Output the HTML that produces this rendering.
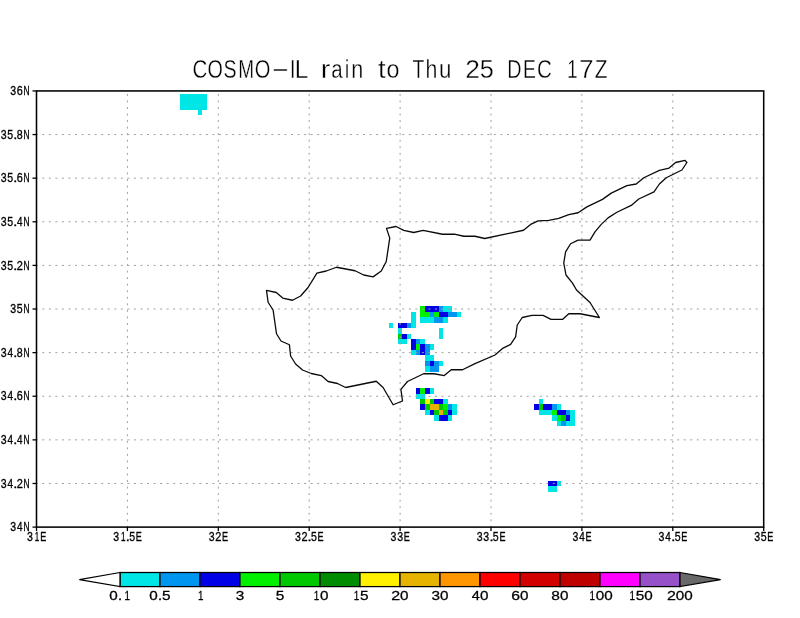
<!DOCTYPE html>
<html lang="en"><head><meta charset="utf-8"><title>COSMO-IL rain to Thu 25 DEC 17Z</title>
<style>html,body{margin:0;padding:0;background:#fff}svg{display:block}text{font-family:"Liberation Sans",sans-serif;fill:#000}</style></head><body>
<svg width="800" height="618" viewBox="0 0 800 618">
<rect width="800" height="618" fill="#fff"/>
<g shape-rendering="crispEdges"><rect x="180" y="94" width="27" height="5" fill="#00e6e6"/><rect x="180" y="99" width="27" height="6" fill="#00e6e6"/><rect x="180" y="105" width="27" height="5" fill="#00e6e6"/><rect x="198" y="110" width="4" height="5" fill="#00e6e6"/><rect x="420" y="306" width="5" height="6" fill="#00f000"/><rect x="425" y="306" width="14" height="6" fill="#0000e6"/><rect x="439" y="306" width="4" height="6" fill="#0096f0"/><rect x="443" y="306" width="9" height="6" fill="#00e6e6"/><rect x="411" y="312" width="5" height="5" fill="#00e6e6"/><rect x="420" y="312" width="10" height="5" fill="#00f000"/><rect x="430" y="312" width="4" height="5" fill="#0096f0"/><rect x="434" y="312" width="5" height="5" fill="#00f000"/><rect x="439" y="312" width="9" height="5" fill="#0000e6"/><rect x="448" y="312" width="9" height="5" fill="#0096f0"/><rect x="457" y="312" width="4" height="5" fill="#00e6e6"/><rect x="411" y="317" width="5" height="6" fill="#00e6e6"/><rect x="420" y="317" width="14" height="6" fill="#00e6e6"/><rect x="434" y="317" width="9" height="6" fill="#0096f0"/><rect x="443" y="317" width="5" height="6" fill="#00e6e6"/><rect x="389" y="323" width="4" height="5" fill="#00e6e6"/><rect x="398" y="323" width="9" height="5" fill="#0000e6"/><rect x="407" y="323" width="4" height="5" fill="#0096f0"/><rect x="411" y="323" width="5" height="5" fill="#00e6e6"/><rect x="398" y="328" width="4" height="6" fill="#00e6e6"/><rect x="439" y="328" width="4" height="6" fill="#00e6e6"/><rect x="398" y="334" width="4" height="5" fill="#00c800"/><rect x="402" y="334" width="5" height="5" fill="#0000e6"/><rect x="407" y="334" width="4" height="5" fill="#00e6e6"/><rect x="439" y="334" width="4" height="5" fill="#00e6e6"/><rect x="398" y="339" width="9" height="5" fill="#00e6e6"/><rect x="411" y="339" width="5" height="5" fill="#0000e6"/><rect x="416" y="339" width="4" height="5" fill="#0096f0"/><rect x="420" y="339" width="5" height="5" fill="#00e6e6"/><rect x="411" y="344" width="5" height="6" fill="#0000e6"/><rect x="416" y="344" width="4" height="6" fill="#00f000"/><rect x="420" y="344" width="5" height="6" fill="#0000e6"/><rect x="425" y="344" width="5" height="6" fill="#0096f0"/><rect x="430" y="344" width="4" height="6" fill="#00e6e6"/><rect x="411" y="350" width="5" height="5" fill="#00e6e6"/><rect x="416" y="350" width="4" height="5" fill="#0096f0"/><rect x="420" y="350" width="5" height="5" fill="#0000e6"/><rect x="425" y="350" width="5" height="5" fill="#0096f0"/><rect x="425" y="355" width="9" height="6" fill="#00e6e6"/><rect x="425" y="361" width="5" height="5" fill="#0096f0"/><rect x="430" y="361" width="4" height="5" fill="#0000e6"/><rect x="434" y="361" width="5" height="5" fill="#0096f0"/><rect x="439" y="361" width="4" height="5" fill="#00e6e6"/><rect x="425" y="366" width="5" height="6" fill="#00e6e6"/><rect x="430" y="366" width="9" height="6" fill="#0096f0"/><rect x="416" y="388" width="4" height="6" fill="#0000e6"/><rect x="420" y="388" width="5" height="6" fill="#00f000"/><rect x="425" y="388" width="5" height="6" fill="#0000e6"/><rect x="430" y="388" width="4" height="6" fill="#00e6e6"/><rect x="416" y="394" width="9" height="5" fill="#00e6e6"/><rect x="420" y="399" width="5" height="5" fill="#00c800"/><rect x="425" y="399" width="5" height="5" fill="#fff000"/><rect x="430" y="399" width="4" height="5" fill="#00c800"/><rect x="434" y="399" width="9" height="5" fill="#0000e6"/><rect x="443" y="399" width="5" height="5" fill="#00e6e6"/><rect x="539" y="399" width="4" height="5" fill="#00e6e6"/><rect x="420" y="404" width="5" height="6" fill="#0000e6"/><rect x="425" y="404" width="5" height="6" fill="#00c800"/><rect x="430" y="404" width="9" height="6" fill="#e6b400"/><rect x="439" y="404" width="4" height="6" fill="#00c800"/><rect x="443" y="404" width="5" height="6" fill="#00f000"/><rect x="448" y="404" width="4" height="6" fill="#0096f0"/><rect x="452" y="404" width="5" height="6" fill="#00e6e6"/><rect x="534" y="404" width="5" height="6" fill="#0000e6"/><rect x="539" y="404" width="4" height="6" fill="#00c800"/><rect x="543" y="404" width="9" height="6" fill="#0000e6"/><rect x="552" y="404" width="5" height="6" fill="#0096f0"/><rect x="557" y="404" width="4" height="6" fill="#00e6e6"/><rect x="425" y="410" width="5" height="5" fill="#00e6e6"/><rect x="430" y="410" width="4" height="5" fill="#0000e6"/><rect x="434" y="410" width="5" height="5" fill="#00c800"/><rect x="439" y="410" width="4" height="5" fill="#e6b400"/><rect x="443" y="410" width="5" height="5" fill="#00c800"/><rect x="448" y="410" width="4" height="5" fill="#0000e6"/><rect x="452" y="410" width="5" height="5" fill="#00e6e6"/><rect x="539" y="410" width="13" height="5" fill="#00e6e6"/><rect x="552" y="410" width="5" height="5" fill="#00f000"/><rect x="557" y="410" width="9" height="5" fill="#0000e6"/><rect x="566" y="410" width="4" height="5" fill="#0096f0"/><rect x="570" y="410" width="5" height="5" fill="#00e6e6"/><rect x="434" y="415" width="5" height="6" fill="#00e6e6"/><rect x="439" y="415" width="9" height="6" fill="#0000e6"/><rect x="448" y="415" width="4" height="6" fill="#00e6e6"/><rect x="552" y="415" width="5" height="6" fill="#00e6e6"/><rect x="557" y="415" width="4" height="6" fill="#00f000"/><rect x="561" y="415" width="5" height="6" fill="#00c800"/><rect x="566" y="415" width="4" height="6" fill="#0000e6"/><rect x="570" y="415" width="5" height="6" fill="#00e6e6"/><rect x="557" y="421" width="4" height="5" fill="#00e6e6"/><rect x="561" y="421" width="5" height="5" fill="#0096f0"/><rect x="566" y="421" width="9" height="5" fill="#00e6e6"/><rect x="548" y="481" width="9" height="5" fill="#0000e6"/><rect x="557" y="481" width="4" height="5" fill="#00e6e6"/><rect x="548" y="486" width="9" height="6" fill="#00e6e6"/></g>
<g stroke="#a0a0a0" stroke-width="1" stroke-dasharray="2 4.545" fill="none"><line x1="35.75" y1="483.48" x2="763.70" y2="483.48"/><line x1="35.75" y1="439.87" x2="763.70" y2="439.87"/><line x1="35.75" y1="396.25" x2="763.70" y2="396.25"/><line x1="35.75" y1="352.64" x2="763.70" y2="352.64"/><line x1="35.75" y1="309.02" x2="763.70" y2="309.02"/><line x1="35.75" y1="265.40" x2="763.70" y2="265.40"/><line x1="35.75" y1="221.79" x2="763.70" y2="221.79"/><line x1="35.75" y1="178.17" x2="763.70" y2="178.17"/><line x1="35.75" y1="134.56" x2="763.70" y2="134.56"/><line x1="127.40" y1="527.85" x2="127.40" y2="90.94"/><line x1="218.30" y1="527.85" x2="218.30" y2="90.94"/><line x1="309.20" y1="527.85" x2="309.20" y2="90.94"/><line x1="400.10" y1="527.85" x2="400.10" y2="90.94"/><line x1="491.00" y1="527.85" x2="491.00" y2="90.94"/><line x1="581.90" y1="527.85" x2="581.90" y2="90.94"/><line x1="672.80" y1="527.85" x2="672.80" y2="90.94"/></g>
<path d="M266.50 290.40 L276.25 292.50 L282.75 298.10 L292.50 300.25 L300.60 296.00 L308.10 287.50 L316.90 273.10 L326.25 271.00 L336.50 267.25 L355.00 270.75 L363.75 275.00 L373.10 276.90 L381.25 271.00 L386.25 261.50 L389.75 238.10 L386.50 228.40 L396.00 226.50 L403.75 230.40 L413.75 232.50 L423.10 230.40 L442.50 234.25 L454.40 234.10 L463.75 236.25 L475.00 236.25 L484.75 238.50 L523.50 230.25 L530.60 224.40 L538.10 220.90 L548.75 220.40 L558.75 218.40 L568.75 214.60 L578.10 212.75 L586.90 206.90 L602.50 199.40 L611.25 193.10 L626.90 185.60 L636.25 184.00 L643.75 177.75 L659.40 170.40 L669.10 168.10 L675.60 162.50 L685.00 160.40 L686.90 162.50 L681.90 170.00 L666.25 177.75 L659.40 184.00 L654.00 191.90 L638.75 199.00 L631.25 205.40 L616.90 212.25 L608.10 217.90 L601.25 224.40 L595.00 231.90 L590.00 240.05 L578.10 240.05 L570.60 243.75 L565.60 251.90 L563.75 263.10 L566.00 275.00 L572.50 283.10 L576.50 290.00 L590.00 302.50 L599.40 317.50 L580.00 313.75 L568.75 313.75 L562.50 319.40 L551.00 319.40 L543.10 315.40 L531.90 315.40 L522.25 317.50 L517.25 325.00 L515.60 336.90 L510.60 344.40 L503.10 348.10 L495.00 355.00 L475.00 363.60 L462.50 369.75 L451.25 369.75 L444.25 375.60 L434.10 373.75 L423.60 373.75 L407.50 381.50 L400.90 389.40 L402.50 401.00 L393.10 404.75 L383.10 387.50 L376.25 381.25 L345.60 387.50 L337.50 383.50 L328.10 381.50 L321.25 375.60 L311.25 373.50 L302.50 370.00 L295.60 364.00 L290.60 356.00 L289.40 344.75 L281.00 341.00 L276.50 333.75 L273.10 310.00 L268.10 302.25 Z" fill="none" stroke="#0a0a0a" stroke-width="1.3" stroke-linejoin="round"/>
<rect x="36.50" y="90.94" width="727.20" height="436.16" fill="none" stroke="#000" stroke-width="1.55"/>
<g stroke="#000" stroke-width="1.3"><line x1="32.50" y1="527.10" x2="36.50" y2="527.10"/><line x1="32.50" y1="483.48" x2="36.50" y2="483.48"/><line x1="32.50" y1="439.87" x2="36.50" y2="439.87"/><line x1="32.50" y1="396.25" x2="36.50" y2="396.25"/><line x1="32.50" y1="352.64" x2="36.50" y2="352.64"/><line x1="32.50" y1="309.02" x2="36.50" y2="309.02"/><line x1="32.50" y1="265.40" x2="36.50" y2="265.40"/><line x1="32.50" y1="221.79" x2="36.50" y2="221.79"/><line x1="32.50" y1="178.17" x2="36.50" y2="178.17"/><line x1="32.50" y1="134.56" x2="36.50" y2="134.56"/><line x1="32.50" y1="90.94" x2="36.50" y2="90.94"/><line x1="36.50" y1="527.10" x2="36.50" y2="531.10"/><line x1="127.40" y1="527.10" x2="127.40" y2="531.10"/><line x1="218.30" y1="527.10" x2="218.30" y2="531.10"/><line x1="309.20" y1="527.10" x2="309.20" y2="531.10"/><line x1="400.10" y1="527.10" x2="400.10" y2="531.10"/><line x1="491.00" y1="527.10" x2="491.00" y2="531.10"/><line x1="581.90" y1="527.10" x2="581.90" y2="531.10"/><line x1="672.80" y1="527.10" x2="672.80" y2="531.10"/><line x1="763.70" y1="527.10" x2="763.70" y2="531.10"/></g>
<g stroke="#000" stroke-width="0.32"><text y="531.25" font-size="12.20"><tspan x="10.20" textLength="5.87" lengthAdjust="spacingAndGlyphs">3</tspan><tspan x="16.97" textLength="5.52" lengthAdjust="spacingAndGlyphs">4</tspan><tspan x="23.41" textLength="6.08" lengthAdjust="spacingAndGlyphs">N</tspan></text><text y="487.63" font-size="12.20"><tspan x="0.70" textLength="5.87" lengthAdjust="spacingAndGlyphs">3</tspan><tspan x="7.47" textLength="5.52" lengthAdjust="spacingAndGlyphs">4</tspan><tspan x="13.36" textLength="4.09" lengthAdjust="spacingAndGlyphs">.</tspan><tspan x="16.65" textLength="6.10" lengthAdjust="spacingAndGlyphs">2</tspan><tspan x="23.41" textLength="6.08" lengthAdjust="spacingAndGlyphs">N</tspan></text><text y="444.02" font-size="12.20"><tspan x="0.70" textLength="5.87" lengthAdjust="spacingAndGlyphs">3</tspan><tspan x="7.47" textLength="5.52" lengthAdjust="spacingAndGlyphs">4</tspan><tspan x="13.36" textLength="4.09" lengthAdjust="spacingAndGlyphs">.</tspan><tspan x="16.97" textLength="5.52" lengthAdjust="spacingAndGlyphs">4</tspan><tspan x="23.41" textLength="6.08" lengthAdjust="spacingAndGlyphs">N</tspan></text><text y="400.40" font-size="12.20"><tspan x="0.70" textLength="5.87" lengthAdjust="spacingAndGlyphs">3</tspan><tspan x="7.47" textLength="5.52" lengthAdjust="spacingAndGlyphs">4</tspan><tspan x="13.36" textLength="4.09" lengthAdjust="spacingAndGlyphs">.</tspan><tspan x="16.65" textLength="6.03" lengthAdjust="spacingAndGlyphs">6</tspan><tspan x="23.41" textLength="6.08" lengthAdjust="spacingAndGlyphs">N</tspan></text><text y="356.79" font-size="12.20"><tspan x="0.70" textLength="5.87" lengthAdjust="spacingAndGlyphs">3</tspan><tspan x="7.47" textLength="5.52" lengthAdjust="spacingAndGlyphs">4</tspan><tspan x="13.36" textLength="4.09" lengthAdjust="spacingAndGlyphs">.</tspan><tspan x="16.74" textLength="5.93" lengthAdjust="spacingAndGlyphs">8</tspan><tspan x="23.41" textLength="6.08" lengthAdjust="spacingAndGlyphs">N</tspan></text><text y="313.17" font-size="12.20"><tspan x="10.20" textLength="5.87" lengthAdjust="spacingAndGlyphs">3</tspan><tspan x="16.78" textLength="5.87" lengthAdjust="spacingAndGlyphs">5</tspan><tspan x="23.41" textLength="6.08" lengthAdjust="spacingAndGlyphs">N</tspan></text><text y="269.55" font-size="12.20"><tspan x="0.70" textLength="5.87" lengthAdjust="spacingAndGlyphs">3</tspan><tspan x="7.28" textLength="5.87" lengthAdjust="spacingAndGlyphs">5</tspan><tspan x="13.36" textLength="4.09" lengthAdjust="spacingAndGlyphs">.</tspan><tspan x="16.65" textLength="6.10" lengthAdjust="spacingAndGlyphs">2</tspan><tspan x="23.41" textLength="6.08" lengthAdjust="spacingAndGlyphs">N</tspan></text><text y="225.94" font-size="12.20"><tspan x="0.70" textLength="5.87" lengthAdjust="spacingAndGlyphs">3</tspan><tspan x="7.28" textLength="5.87" lengthAdjust="spacingAndGlyphs">5</tspan><tspan x="13.36" textLength="4.09" lengthAdjust="spacingAndGlyphs">.</tspan><tspan x="16.97" textLength="5.52" lengthAdjust="spacingAndGlyphs">4</tspan><tspan x="23.41" textLength="6.08" lengthAdjust="spacingAndGlyphs">N</tspan></text><text y="182.32" font-size="12.20"><tspan x="0.70" textLength="5.87" lengthAdjust="spacingAndGlyphs">3</tspan><tspan x="7.28" textLength="5.87" lengthAdjust="spacingAndGlyphs">5</tspan><tspan x="13.36" textLength="4.09" lengthAdjust="spacingAndGlyphs">.</tspan><tspan x="16.65" textLength="6.03" lengthAdjust="spacingAndGlyphs">6</tspan><tspan x="23.41" textLength="6.08" lengthAdjust="spacingAndGlyphs">N</tspan></text><text y="138.71" font-size="12.20"><tspan x="0.70" textLength="5.87" lengthAdjust="spacingAndGlyphs">3</tspan><tspan x="7.28" textLength="5.87" lengthAdjust="spacingAndGlyphs">5</tspan><tspan x="13.36" textLength="4.09" lengthAdjust="spacingAndGlyphs">.</tspan><tspan x="16.74" textLength="5.93" lengthAdjust="spacingAndGlyphs">8</tspan><tspan x="23.41" textLength="6.08" lengthAdjust="spacingAndGlyphs">N</tspan></text><text y="95.09" font-size="12.20"><tspan x="10.20" textLength="5.87" lengthAdjust="spacingAndGlyphs">3</tspan><tspan x="16.65" textLength="6.03" lengthAdjust="spacingAndGlyphs">6</tspan><tspan x="23.41" textLength="6.08" lengthAdjust="spacingAndGlyphs">N</tspan></text><text y="540.60" font-size="12.20"><tspan x="27.00" textLength="5.87" lengthAdjust="spacingAndGlyphs">3</tspan><tspan x="34.82" textLength="4.48" lengthAdjust="spacingAndGlyphs">1</tspan><tspan x="40.16" textLength="6.03" lengthAdjust="spacingAndGlyphs">E</tspan></text><text y="540.60" font-size="12.20"><tspan x="113.15" textLength="5.87" lengthAdjust="spacingAndGlyphs">3</tspan><tspan x="120.97" textLength="4.48" lengthAdjust="spacingAndGlyphs">1</tspan><tspan x="125.81" textLength="4.09" lengthAdjust="spacingAndGlyphs">.</tspan><tspan x="129.23" textLength="5.87" lengthAdjust="spacingAndGlyphs">5</tspan><tspan x="135.81" textLength="6.03" lengthAdjust="spacingAndGlyphs">E</tspan></text><text y="540.60" font-size="12.20"><tspan x="208.80" textLength="5.87" lengthAdjust="spacingAndGlyphs">3</tspan><tspan x="215.25" textLength="6.10" lengthAdjust="spacingAndGlyphs">2</tspan><tspan x="221.96" textLength="6.03" lengthAdjust="spacingAndGlyphs">E</tspan></text><text y="540.60" font-size="12.20"><tspan x="294.95" textLength="5.87" lengthAdjust="spacingAndGlyphs">3</tspan><tspan x="301.40" textLength="6.10" lengthAdjust="spacingAndGlyphs">2</tspan><tspan x="307.61" textLength="4.09" lengthAdjust="spacingAndGlyphs">.</tspan><tspan x="311.03" textLength="5.87" lengthAdjust="spacingAndGlyphs">5</tspan><tspan x="317.61" textLength="6.03" lengthAdjust="spacingAndGlyphs">E</tspan></text><text y="540.60" font-size="12.20"><tspan x="390.60" textLength="5.87" lengthAdjust="spacingAndGlyphs">3</tspan><tspan x="397.20" textLength="5.87" lengthAdjust="spacingAndGlyphs">3</tspan><tspan x="403.76" textLength="6.03" lengthAdjust="spacingAndGlyphs">E</tspan></text><text y="540.60" font-size="12.20"><tspan x="476.75" textLength="5.87" lengthAdjust="spacingAndGlyphs">3</tspan><tspan x="483.35" textLength="5.87" lengthAdjust="spacingAndGlyphs">3</tspan><tspan x="489.41" textLength="4.09" lengthAdjust="spacingAndGlyphs">.</tspan><tspan x="492.83" textLength="5.87" lengthAdjust="spacingAndGlyphs">5</tspan><tspan x="499.41" textLength="6.03" lengthAdjust="spacingAndGlyphs">E</tspan></text><text y="540.60" font-size="12.20"><tspan x="572.40" textLength="5.87" lengthAdjust="spacingAndGlyphs">3</tspan><tspan x="579.17" textLength="5.52" lengthAdjust="spacingAndGlyphs">4</tspan><tspan x="585.56" textLength="6.03" lengthAdjust="spacingAndGlyphs">E</tspan></text><text y="540.60" font-size="12.20"><tspan x="658.55" textLength="5.87" lengthAdjust="spacingAndGlyphs">3</tspan><tspan x="665.32" textLength="5.52" lengthAdjust="spacingAndGlyphs">4</tspan><tspan x="671.21" textLength="4.09" lengthAdjust="spacingAndGlyphs">.</tspan><tspan x="674.63" textLength="5.87" lengthAdjust="spacingAndGlyphs">5</tspan><tspan x="681.21" textLength="6.03" lengthAdjust="spacingAndGlyphs">E</tspan></text><text y="540.60" font-size="12.20"><tspan x="754.20" textLength="5.87" lengthAdjust="spacingAndGlyphs">3</tspan><tspan x="760.78" textLength="5.87" lengthAdjust="spacingAndGlyphs">5</tspan><tspan x="767.36" textLength="6.03" lengthAdjust="spacingAndGlyphs">E</tspan></text></g>
<text y="77.85" font-size="26.4" xml:space="preserve" stroke="#fff" stroke-width="0.35"><tspan x="192.46" textLength="14.82" lengthAdjust="spacingAndGlyphs">C</tspan><tspan x="207.56" textLength="15.38" lengthAdjust="spacingAndGlyphs">O</tspan><tspan x="223.61" textLength="13.09" lengthAdjust="spacingAndGlyphs">S</tspan><tspan x="238.24" textLength="15.81" lengthAdjust="spacingAndGlyphs">M</tspan><tspan x="254.85" textLength="15.61" lengthAdjust="spacingAndGlyphs">O</tspan><tspan dy="-0.9" x="270.65" textLength="19.10" lengthAdjust="spacingAndGlyphs">-</tspan><tspan dy="0.9" x="290.12" textLength="5.36" lengthAdjust="spacingAndGlyphs">I</tspan><tspan x="294.64" textLength="12.61" lengthAdjust="spacingAndGlyphs">L</tspan> <tspan x="320.89" textLength="9.59" lengthAdjust="spacingAndGlyphs">r</tspan><tspan x="331.13" textLength="11.37" lengthAdjust="spacingAndGlyphs">a</tspan><tspan x="344.83" textLength="4.55" lengthAdjust="spacingAndGlyphs">i</tspan><tspan x="351.36" textLength="12.04" lengthAdjust="spacingAndGlyphs">n</tspan> <tspan x="378.09" textLength="7.62" lengthAdjust="spacingAndGlyphs">t</tspan><tspan x="386.52" textLength="12.96" lengthAdjust="spacingAndGlyphs">o</tspan> <tspan x="412.56" textLength="11.88" lengthAdjust="spacingAndGlyphs">T</tspan><tspan x="425.52" textLength="11.86" lengthAdjust="spacingAndGlyphs">h</tspan><tspan x="439.05" textLength="12.44" lengthAdjust="spacingAndGlyphs">u</tspan> <tspan x="465.18" textLength="14.65" lengthAdjust="spacingAndGlyphs">2</tspan><tspan x="479.79" textLength="14.08" lengthAdjust="spacingAndGlyphs">5</tspan> <tspan x="507.18" textLength="14.27" lengthAdjust="spacingAndGlyphs">D</tspan><tspan x="522.91" textLength="12.92" lengthAdjust="spacingAndGlyphs">E</tspan><tspan x="536.96" textLength="14.82" lengthAdjust="spacingAndGlyphs">C</tspan> <tspan x="567.24" textLength="10.28" lengthAdjust="spacingAndGlyphs">1</tspan><tspan x="579.18" textLength="14.31" lengthAdjust="spacingAndGlyphs">7</tspan><tspan x="594.83" textLength="12.82" lengthAdjust="spacingAndGlyphs">Z</tspan></text>
<g stroke="#000" stroke-width="1.25" stroke-linejoin="miter"><rect x="120.00" y="572.50" width="40.00" height="14.10" fill="#00e6e6"/><rect x="160.00" y="572.50" width="40.00" height="14.10" fill="#0096f0"/><rect x="200.00" y="572.50" width="40.00" height="14.10" fill="#0000e6"/><rect x="240.00" y="572.50" width="40.00" height="14.10" fill="#00f000"/><rect x="280.00" y="572.50" width="40.00" height="14.10" fill="#00c800"/><rect x="320.00" y="572.50" width="40.00" height="14.10" fill="#008c00"/><rect x="360.00" y="572.50" width="40.00" height="14.10" fill="#fff000"/><rect x="400.00" y="572.50" width="40.00" height="14.10" fill="#e6b400"/><rect x="440.00" y="572.50" width="40.00" height="14.10" fill="#ff9600"/><rect x="480.00" y="572.50" width="40.00" height="14.10" fill="#ff0000"/><rect x="520.00" y="572.50" width="40.00" height="14.10" fill="#d20000"/><rect x="560.00" y="572.50" width="40.00" height="14.10" fill="#be0000"/><rect x="600.00" y="572.50" width="40.00" height="14.10" fill="#ff00ff"/><rect x="640.00" y="572.50" width="40.00" height="14.10" fill="#9650c8"/><path d="M120.00 572.50 L79.4 579.6 L120.00 586.60 Z" fill="#fff"/><path d="M680.00 572.50 L720.6 579.6 L680.00 586.60 Z" fill="#696969"/></g>
<g stroke="#000" stroke-width="0.28"><text y="600.25" font-size="13.70"><tspan x="109.35" textLength="8.49" lengthAdjust="spacingAndGlyphs">0</tspan><tspan x="118.10" textLength="4.09" lengthAdjust="spacingAndGlyphs">.</tspan><tspan x="124.43" textLength="5.49" lengthAdjust="spacingAndGlyphs">1</tspan></text><text y="600.25" font-size="13.70"><tspan x="149.35" textLength="8.49" lengthAdjust="spacingAndGlyphs">0</tspan><tspan x="158.10" textLength="4.09" lengthAdjust="spacingAndGlyphs">.</tspan><tspan x="162.13" textLength="8.56" lengthAdjust="spacingAndGlyphs">5</tspan></text><text y="600.25" font-size="13.70"><tspan x="198.03" textLength="5.49" lengthAdjust="spacingAndGlyphs">1</tspan></text><text y="600.25" font-size="13.70"><tspan x="235.76" textLength="8.56" lengthAdjust="spacingAndGlyphs">3</tspan></text><text y="600.25" font-size="13.70"><tspan x="275.73" textLength="8.56" lengthAdjust="spacingAndGlyphs">5</tspan></text><text y="600.25" font-size="13.70"><tspan x="313.73" textLength="5.49" lengthAdjust="spacingAndGlyphs">1</tspan><tspan x="320.05" textLength="8.49" lengthAdjust="spacingAndGlyphs">0</tspan></text><text y="600.25" font-size="13.70"><tspan x="353.73" textLength="5.49" lengthAdjust="spacingAndGlyphs">1</tspan><tspan x="360.03" textLength="8.56" lengthAdjust="spacingAndGlyphs">5</tspan></text><text y="600.25" font-size="13.70"><tspan x="391.24" textLength="8.91" lengthAdjust="spacingAndGlyphs">2</tspan><tspan x="400.05" textLength="8.49" lengthAdjust="spacingAndGlyphs">0</tspan></text><text y="600.25" font-size="13.70"><tspan x="431.46" textLength="8.56" lengthAdjust="spacingAndGlyphs">3</tspan><tspan x="440.05" textLength="8.49" lengthAdjust="spacingAndGlyphs">0</tspan></text><text y="600.25" font-size="13.70"><tspan x="471.72" textLength="8.06" lengthAdjust="spacingAndGlyphs">4</tspan><tspan x="480.05" textLength="8.49" lengthAdjust="spacingAndGlyphs">0</tspan></text><text y="600.25" font-size="13.70"><tspan x="511.25" textLength="8.80" lengthAdjust="spacingAndGlyphs">6</tspan><tspan x="520.05" textLength="8.49" lengthAdjust="spacingAndGlyphs">0</tspan></text><text y="600.25" font-size="13.70"><tspan x="551.37" textLength="8.65" lengthAdjust="spacingAndGlyphs">8</tspan><tspan x="560.05" textLength="8.49" lengthAdjust="spacingAndGlyphs">0</tspan></text><text y="600.25" font-size="13.70"><tspan x="589.43" textLength="5.49" lengthAdjust="spacingAndGlyphs">1</tspan><tspan x="595.75" textLength="8.49" lengthAdjust="spacingAndGlyphs">0</tspan><tspan x="604.35" textLength="8.49" lengthAdjust="spacingAndGlyphs">0</tspan></text><text y="600.25" font-size="13.70"><tspan x="629.43" textLength="5.49" lengthAdjust="spacingAndGlyphs">1</tspan><tspan x="635.73" textLength="8.56" lengthAdjust="spacingAndGlyphs">5</tspan><tspan x="644.35" textLength="8.49" lengthAdjust="spacingAndGlyphs">0</tspan></text><text y="600.25" font-size="13.70"><tspan x="666.94" textLength="8.91" lengthAdjust="spacingAndGlyphs">2</tspan><tspan x="675.75" textLength="8.49" lengthAdjust="spacingAndGlyphs">0</tspan><tspan x="684.35" textLength="8.49" lengthAdjust="spacingAndGlyphs">0</tspan></text></g>
</svg></body></html>
